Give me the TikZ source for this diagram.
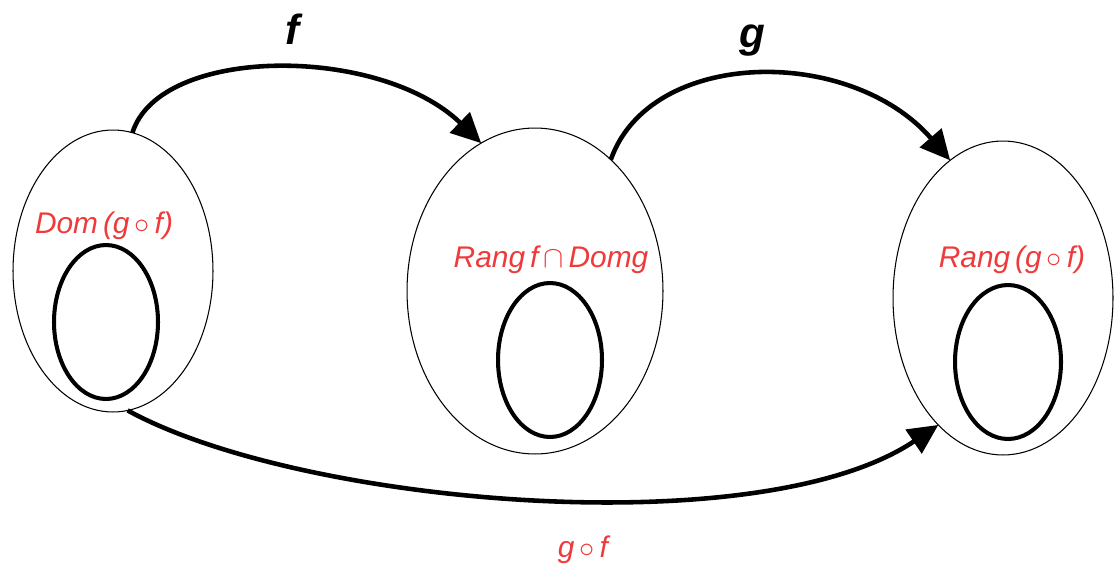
\documentclass[tikz,border=0pt]{standalone}
\usepackage{fontspec}
\setmainfont{Liberation Sans}
\usetikzlibrary{shapes.geometric,arrows.meta}
\definecolor{lblred}{RGB}{238,58,58}
\tikzset{
  outerset/.style={ellipse,draw,line width=0.6pt,inner sep=0pt,outer sep=0pt},
  innerset/.style={ellipse,draw,line width=2.3pt,inner sep=0pt,outer sep=0pt,minimum width=2.08cm,minimum height=3.08cm},
  setlabel/.style={text=lblred,font=\fontsize{17}{20}\selectfont\itshape,inner sep=0pt},
  maplabel/.style={font=\fontsize{24}{28}\selectfont\bfseries\itshape,inner sep=0pt},
  maparrow/.style={line width=2.6pt,-{Triangle[length=17pt,width=16pt]}}
}
\begin{document}
\begin{tikzpicture}[x=0.02cm,y=-0.02cm]
\useasboundingbox (0,0) rectangle (1115,565);
% outer sets
\node[outerset,minimum width=4cm,minimum height=5.64cm] (L) at (113,271) {};
\node[outerset,minimum width=5.12cm,minimum height=6.52cm] (M) at (535,291) {};
\node[outerset,minimum width=4.4cm,minimum height=6.28cm] (R) at (1003,298) {};
% inner sets
\node[innerset] (Li) at (106,322) {};
\node[innerset] (Mi) at (550,360) {};
\node[innerset,minimum width=2.12cm] (Ri) at (1008,362) {};
% set labels
\node[setlabel] (Lt) at (104,226) {Dom\,(g\,$\circ$\,f)};
\node[setlabel] (Mt) at (551,260) {Rang\,f\,$\cap$\,Domg};
\node[setlabel] (Rt) at (1012,260) {Rang\,(g\,$\circ$\,f)};
% arrows
\draw[maparrow] (L.82) .. controls (160,45) and (380,45) .. (M.110);
\draw[maparrow] (M.60) .. controls (650,48) and (850,45) .. (R.111);
\draw[maparrow] (L.-84) .. controls (300,505) and (760,545) .. (R.-117);
% map labels
\node[maplabel] (fl) at (293,29) {f};
\node[maplabel] (gl) at (752,41) {g};
\node[setlabel] (gfl) at (583,550) {g\,$\circ$\,f};
\end{tikzpicture}
\end{document}
